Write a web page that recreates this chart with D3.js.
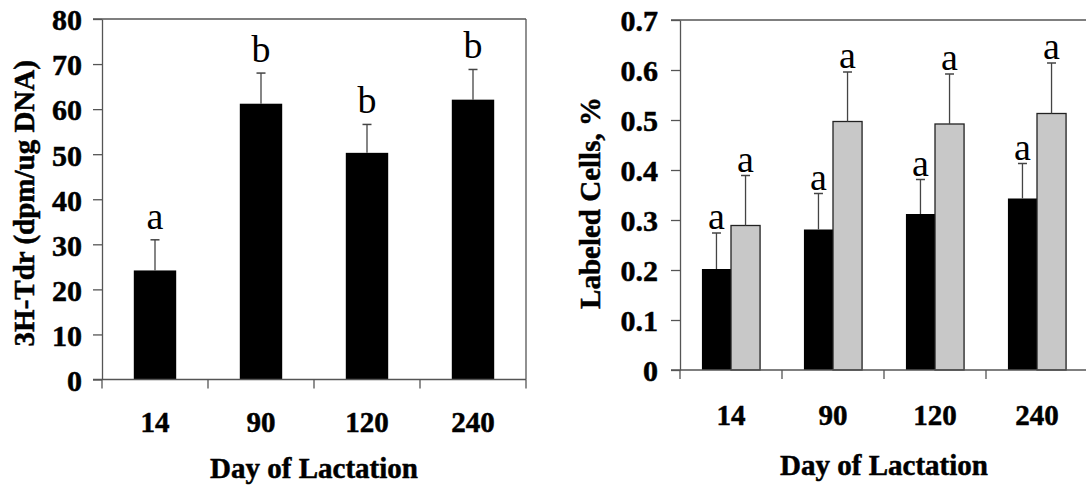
<!DOCTYPE html>
<html><head><meta charset="utf-8">
<script src="https://cdn.jsdelivr.net/npm/d3@7"></script>
<style>
html,body{margin:0;padding:0;background:#fff;}
svg text{font-family:"Liberation Serif","Times New Roman",serif;}
svg text.bold{font-weight:bold;stroke:#000;stroke-width:0.5px;}
</style></head>
<body><svg id="c" width="1086" height="489"></svg>
<script>
const days = ["14", "90", "120", "240"];
const tdrValues = [24.2, 61.2, 50.3, 62.1];
const tdrErrors = [6.8, 6.8, 6.3, 6.7];
const tdrLetters = ["a", "b", "b", "b"];
const tdrTicks = [0, 10, 20, 30, 40, 50, 60, 70, 80];

const seriesNames = ["black", "gray"];
const labeledBlack = [0.202, 0.281, 0.312, 0.343];
const labeledBlackErr = [0.072, 0.072, 0.069, 0.070];
const labeledGray = [0.289, 0.497, 0.492, 0.513];
const labeledGrayErr = [0.100, 0.099, 0.100, 0.101];
const labeledLetters = [["a", "a"], ["a", "a"], ["a", "a"], ["a", "a"]];
const labeledTicks = [0, 0.1, 0.2, 0.3, 0.4, 0.5, 0.6, 0.7];

const svg = d3.select("#c");
const AX = "#555";

function styleAxis(g) {
  g.selectAll("path,line").attr("stroke", AX).attr("stroke-width", 1.3);
  g.selectAll("text").attr("class", "bold").attr("fill", "#000").style("font-size", "30px")
   .style("font-family", "'Liberation Serif','Times New Roman',serif");
}

// ---------- Left chart ----------
{
  const x0 = 102, x1 = 526, yTop = 19, yBot = 379.5;
  const y = d3.scaleLinear().domain([0, 80]).range([yBot, yTop]);
  const xb = d3.scaleBand().domain(days).range([x0, x1]).paddingInner(0.6).paddingOuter(0.3);
  const xe = d3.scaleBand().domain(days).range([x0, x1]).padding(0);
  const g = svg.append("g");

  g.append("line").attr("x1", x0 - 9).attr("x2", x1).attr("y1", yTop).attr("y2", yTop).attr("stroke", AX).attr("stroke-width", 1.3);
  g.append("line").attr("x1", x1).attr("x2", x1).attr("y1", yTop).attr("y2", yBot).attr("stroke", AX).attr("stroke-width", 1.3);

  g.selectAll("rect.bar").data(days).join("rect").attr("class", "bar")
    .attr("x", d => xb(d)).attr("width", xb.bandwidth())
    .attr("y", (d, i) => y(tdrValues[i])).attr("height", (d, i) => yBot - y(tdrValues[i]))
    .attr("fill", "#000");

  days.forEach((d, i) => {
    const cx = xb(d) + xb.bandwidth() / 2;
    const top = y(tdrValues[i] + tdrErrors[i]);
    g.append("line").attr("x1", cx).attr("x2", cx).attr("y1", y(tdrValues[i])).attr("y2", top).attr("stroke", "#444").attr("stroke-width", 1.3);
    g.append("line").attr("x1", cx - 4.5).attr("x2", cx + 4.5).attr("y1", top).attr("y2", top).attr("stroke", "#444").attr("stroke-width", 1.5);
    g.append("text").attr("x", cx).attr("y", top - 11).attr("text-anchor", "middle")
      .style("font-size", "38px").text(tdrLetters[i]);
  });

  const ya = g.append("g").attr("transform", `translate(${x0},0)`)
    .call(d3.axisLeft(y).tickValues(tdrTicks).tickSize(9).tickSizeOuter(0).tickPadding(11).tickFormat(d3.format("d")));
  styleAxis(ya);
  ya.selectAll("text").attr("dy", "0.36em");

  g.append("line").attr("x1", x0 - 9).attr("x2", x1).attr("y1", yBot).attr("y2", yBot).attr("stroke", AX).attr("stroke-width", 1.3);
  const edges = days.map(d => xe(d)).concat([x1]);
  g.selectAll("line.xt").data(edges).join("line").attr("class", "xt")
    .attr("x1", d => d).attr("x2", d => d).attr("y1", yBot).attr("y2", yBot + 9).attr("stroke", AX).attr("stroke-width", 1.3);
  g.selectAll("text.xl").data(days).join("text").attr("class", "bold")
    .attr("x", d => xe(d) + xe.bandwidth() / 2).attr("y", 432).attr("text-anchor", "middle")
    .style("font-size", "29px").text(d => d);

  g.append("text").attr("class", "bold").attr("x", (x0 + x1) / 2).attr("y", 478).attr("text-anchor", "middle")
    .style("font-size", "29px").text("Day of Lactation");
  g.append("text").attr("class", "bold").attr("transform", `translate(34,${(yTop + yBot) / 2 + 4}) rotate(-90)`).attr("text-anchor", "middle")
    .style("font-size", "29px").text("3H-Tdr (dpm/ug DNA)");
}

// ---------- Right chart ----------
{
  const x0 = 680, x1 = 1088, yTop = 20, yBot = 370;
  const y = d3.scaleLinear().domain([0, 0.7]).range([yBot, yTop]);
  const xb = d3.scaleBand().domain(days).range([x0, x1]).paddingInner(0.43).paddingOuter(0.215);
  const xe = d3.scaleBand().domain(days).range([x0, x1]).padding(0);
  const xs = d3.scaleBand().domain(seriesNames).range([0, xb.bandwidth()]).padding(0);
  const vals = { black: labeledBlack, gray: labeledGray };
  const errs = { black: labeledBlackErr, gray: labeledGrayErr };
  const fills = { black: "#000", gray: "#c8c8c8" };
  const g = svg.append("g");

  g.append("line").attr("x1", x0 - 9).attr("x2", 1086).attr("y1", yTop).attr("y2", yTop).attr("stroke", AX).attr("stroke-width", 1.3);

  days.forEach((d, i) => {
    seriesNames.forEach((s, j) => {
      const v = vals[s][i], e = errs[s][i];
      const bx = xb(d) + xs(s);
      g.append("rect").attr("x", bx).attr("width", xs.bandwidth())
        .attr("y", y(v)).attr("height", yBot - y(v)).attr("fill", fills[s])
        .attr("stroke", s === "gray" ? "#222" : "none").attr("stroke-width", 1.3);
      const cx = bx + xs.bandwidth() / 2;
      const top = y(v + e);
      g.append("line").attr("x1", cx).attr("x2", cx).attr("y1", y(v)).attr("y2", top).attr("stroke", "#444").attr("stroke-width", 1.3);
      g.append("line").attr("x1", cx - 4.5).attr("x2", cx + 4.5).attr("y1", top).attr("y2", top).attr("stroke", "#444").attr("stroke-width", 1.5);
      g.append("text").attr("x", cx).attr("y", top - 4).attr("text-anchor", "middle")
        .style("font-size", "38px").text(labeledLetters[i][j]);
    });
  });

  const ya = g.append("g").attr("transform", `translate(${x0},0)`)
    .call(d3.axisLeft(y).tickValues(labeledTicks).tickSize(9).tickSizeOuter(0).tickPadding(13).tickFormat(d => d === 0 ? "0" : d3.format(".1f")(d)));
  styleAxis(ya);
  ya.selectAll("text").attr("dy", "0.36em");

  g.append("line").attr("x1", x0 - 9).attr("x2", 1086).attr("y1", yBot).attr("y2", yBot).attr("stroke", AX).attr("stroke-width", 1.3);
  const edges = days.map(d => xe(d));
  g.selectAll("line.xt").data(edges).join("line").attr("class", "xt")
    .attr("x1", d => d).attr("x2", d => d).attr("y1", yBot).attr("y2", yBot + 9).attr("stroke", AX).attr("stroke-width", 1.3);
  g.selectAll("text.xl").data(days).join("text").attr("class", "bold")
    .attr("x", d => xe(d) + xe.bandwidth() / 2).attr("y", 425).attr("text-anchor", "middle")
    .style("font-size", "29px").text(d => d);

  g.append("text").attr("class", "bold").attr("x", (x0 + x1) / 2).attr("y", 475).attr("text-anchor", "middle")
    .style("font-size", "29px").text("Day of Lactation");
  g.append("text").attr("class", "bold").attr("transform", `translate(600,${(yTop + yBot) / 2 + 8}) rotate(-90)`).attr("text-anchor", "middle")
    .style("font-size", "29px").text("Labeled Cells, %");
}
</script></body></html>
